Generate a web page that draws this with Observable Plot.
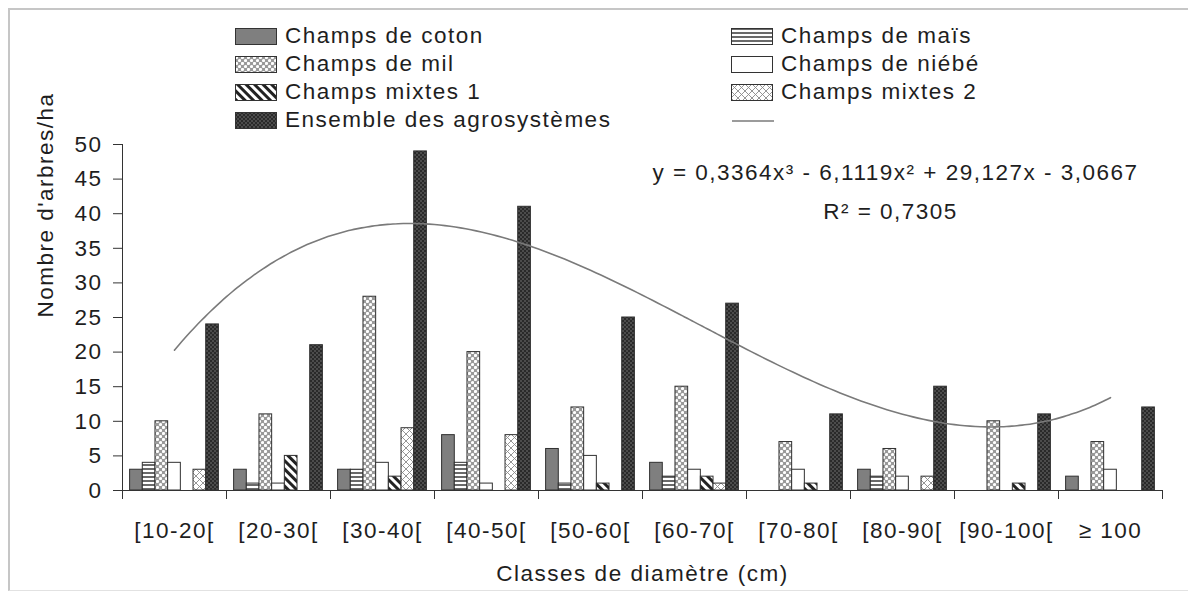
<!DOCTYPE html>
<html>
<head>
<meta charset="utf-8">
<script src="https://cdn.jsdelivr.net/npm/d3@7"></script>
<script src="https://cdn.jsdelivr.net/npm/@observablehq/plot@0.6"></script>
<style>
  html, body { margin: 0; padding: 0; background: #fff; }
  #wrap { position: relative; width: 1188px; height: 591px; overflow: hidden;
          font-family: "Liberation Sans", Arial, sans-serif; font-size: 22.5px; letter-spacing: 1.5px; color: #1e1e1e; }
  #frame { position: absolute; left: 8px; top: 8px; width: 1300px; height: 580px;
           border-left: 2px solid #c6c6c6; border-top: 2px solid #c6c6c6; border-bottom: 1px solid #e2e2e2; }
  #chart { position: absolute; left: 0; top: 0; }
  .lg { position: absolute; height: 28px; line-height: 28px; white-space: nowrap; }
  .lg svg { position: absolute; left: 0; top: 6px; }
  .lg span { position: absolute; left: 50px; top: 0; }
</style>
</head>
<body>
<svg width="0" height="0" style="position:absolute">
  <defs>
    <pattern id="p-mais" width="4" height="4" patternUnits="userSpaceOnUse">
      <rect width="4" height="4" fill="#fff"/><rect width="4" height="2" fill="#6a6a6a"/>
    </pattern>
    <pattern id="p-mil" width="6" height="6" patternUnits="userSpaceOnUse">
      <rect width="6" height="6" fill="#999"/>
      <circle cx="1.5" cy="1.5" r="1.6" fill="#fff"/><circle cx="4.5" cy="4.5" r="1.6" fill="#fff"/>
    </pattern>
    <pattern id="p-mx1" width="6" height="6" patternUnits="userSpaceOnUse" patternTransform="rotate(-45)">
      <rect width="6" height="6" fill="#fff"/><rect width="3" height="6" fill="#222"/>
    </pattern>
    <pattern id="p-mx2" width="7" height="7" patternUnits="userSpaceOnUse">
      <rect width="7" height="7" fill="#fff"/>
      <path d="M0,0L7,7M7,0L0,7" stroke="#8a8a8a" stroke-width="0.9"/>
    </pattern>
    <pattern id="p-ens" width="4" height="4" patternUnits="userSpaceOnUse">
      <rect width="4" height="4" fill="#2a2a2a"/>
      <circle cx="1" cy="1" r="0.8" fill="#777"/><circle cx="3" cy="3" r="0.8" fill="#777"/>
    </pattern>
  </defs>
</svg>
<div id="wrap">
  <div id="frame"></div>
  <div id="chart"></div>
  <div id="legend"></div>
</div>
<script>
// ---- data ----
const categories = ["[10-20[", "[20-30[", "[30-40[", "[40-50[", "[50-60[", "[60-70[", "[70-80[", "[80-90[", "[90-100[", "\u2265 100"];
const series = ["Champs de coton", "Champs de maïs", "Champs de mil", "Champs de niébé", "Champs mixtes 1", "Champs mixtes 2", "Ensemble des agrosystèmes"];
const coton    = [3, 3, 3, 8, 6, 4, 0, 3, 0, 2];
const mais     = [4, 1, 3, 4, 1, 2, 0, 2, 0, 0];
const mil      = [10, 11, 28, 20, 12, 15, 7, 6, 10, 7];
const niebe    = [4, 1, 4, 1, 5, 3, 3, 2, 0, 3];
const mixtes1  = [0, 5, 2, 0, 1, 2, 1, 0, 1, 0];
const mixtes2  = [3, 0, 9, 8, 0, 1, 0, 2, 0, 0];
const ensemble = [24, 21, 49, 41, 25, 27, 11, 15, 11, 12];
// polynomial trend line shown on the chart: y = 0,3364x³ - 6,1119x² + 29,127x - 3,0667
const trendCoefficients = [-3.0667, 29.127, -6.1119, 0.3364];
const equationText = "y = 0,3364x\u00B3 - 6,1119x\u00B2 + 29,127x - 3,0667";
const r2Text = "R\u00B2 = 0,7305";
const yTicks = [0, 5, 10, 15, 20, 25, 30, 35, 40, 45, 50];

// ---- styles ----
const fills = ["#7f7f7f", "url(#p-mais)", "url(#p-mil)", "#ffffff", "url(#p-mx1)", "url(#p-mx2)", "url(#p-ens)"];

const valuesBySeries = [coton, mais, mil, niebe, mixtes1, mixtes2, ensemble];
const rows = [];
series.forEach((s, si) => valuesBySeries[si].forEach((v, gi) => {
  if (v > 0) rows.push({series: s, group: gi + 1, value: v});
}));

// position of each series inside its diameter class
const inner = d3.scaleBand().domain(series).range([-0.5, 0.5]).paddingInner(0).paddingOuter(0.6);

const trend = d3.range(1, 10.001, 0.05).map(x => ({
  x, y: trendCoefficients.reduce((acc, c, k) => acc + c * Math.pow(x, k), 0)
}));

const centers = categories.map((d, i) => i + 1);
const boundaries = d3.range(0.5, 11, 1);

const font = {fontFamily: "'Liberation Sans', Arial, sans-serif", fontSize: 22.5, fill: "#1e1e1e"};

const chart = Plot.plot({
  width: 1188, height: 591,
  marginLeft: 122, marginRight: 26, marginTop: 144, marginBottom: 101,
  x: {type: "linear", domain: [0.5, 10.5], axis: null},
  y: {domain: [0, 50], axis: null},
  color: {type: "ordinal", domain: series, range: fills},
  style: {fontFamily: "'Liberation Sans', Arial, sans-serif", fontSize: "22.5px", letterSpacing: "1.5px", color: "#1e1e1e", background: "transparent"},
  marks: [
    Plot.axisY({ticks: yTicks, tickSize: 9, tickPadding: 11, label: null, stroke: "#333", fill: "#1e1e1e"}),
    Plot.axisX({ticks: boundaries, tickSize: 9, tickFormat: () => "", label: null, stroke: "#333"}),
    Plot.rectY(rows, {
      x1: d => d.group + inner(d.series),
      x2: d => d.group + inner(d.series) + inner.bandwidth(),
      y: "value", fill: "series", stroke: "#303030", strokeWidth: 1
    }),
    Plot.ruleY([0], {stroke: "#333"}),
    Plot.ruleX([0.5], {stroke: "#333"}),
    Plot.line(trend, {x: "x", y: "y", stroke: "#7a7a7a", strokeWidth: 1.6, curve: "natural"}),
    Plot.text(categories, {x: (d, i) => centers[i], text: d => d, frameAnchor: "bottom", dy: 40, lineAnchor: "middle", ...font}),
    Plot.text(["Classes de diamètre (cm)"], {frameAnchor: "bottom", dy: 83, lineAnchor: "middle", ...font}),
    Plot.text(["Nombre d'arbres/ha"], {frameAnchor: "left", dx: -77, rotate: -90, lineAnchor: "middle", ...font}),
    Plot.text([equationText], {frameAnchor: "top-right", dx: -267, dy: 28, textAnchor: "middle", lineAnchor: "middle", ...font}),
    Plot.text([r2Text], {frameAnchor: "top-right", dx: -272, dy: 67, textAnchor: "middle", lineAnchor: "middle", ...font})
  ]
});
document.getElementById("chart").appendChild(chart);

// ---- legend (HTML, above the plot area) ----
const legend = document.getElementById("legend");
const legendItems = series.map((s, i) => ({label: s, fill: fills[i], type: "rect"}));
legendItems.push({label: "", type: "line"});
legendItems.forEach((it, i) => {
  const col = i % 2, row = Math.floor(i / 2);
  const el = document.createElement("div");
  el.className = "lg";
  el.style.left = (col === 0 ? 235 : 731) + "px";
  el.style.top = (22 + row * 28) + "px";
  const sw = it.type === "rect"
    ? `<svg width="44" height="18"><rect x="0.5" y="0.5" width="41" height="16" fill="${it.fill}" stroke="#333" stroke-width="1"/></svg>`
    : `<svg width="44" height="18"><line x1="1" x2="43" y1="9" y2="9" stroke="#7a7a7a" stroke-width="1.6"/></svg>`;
  el.innerHTML = sw + `<span>${it.label}</span>`;
  legend.appendChild(el);
});
</script>
</body>
</html>
